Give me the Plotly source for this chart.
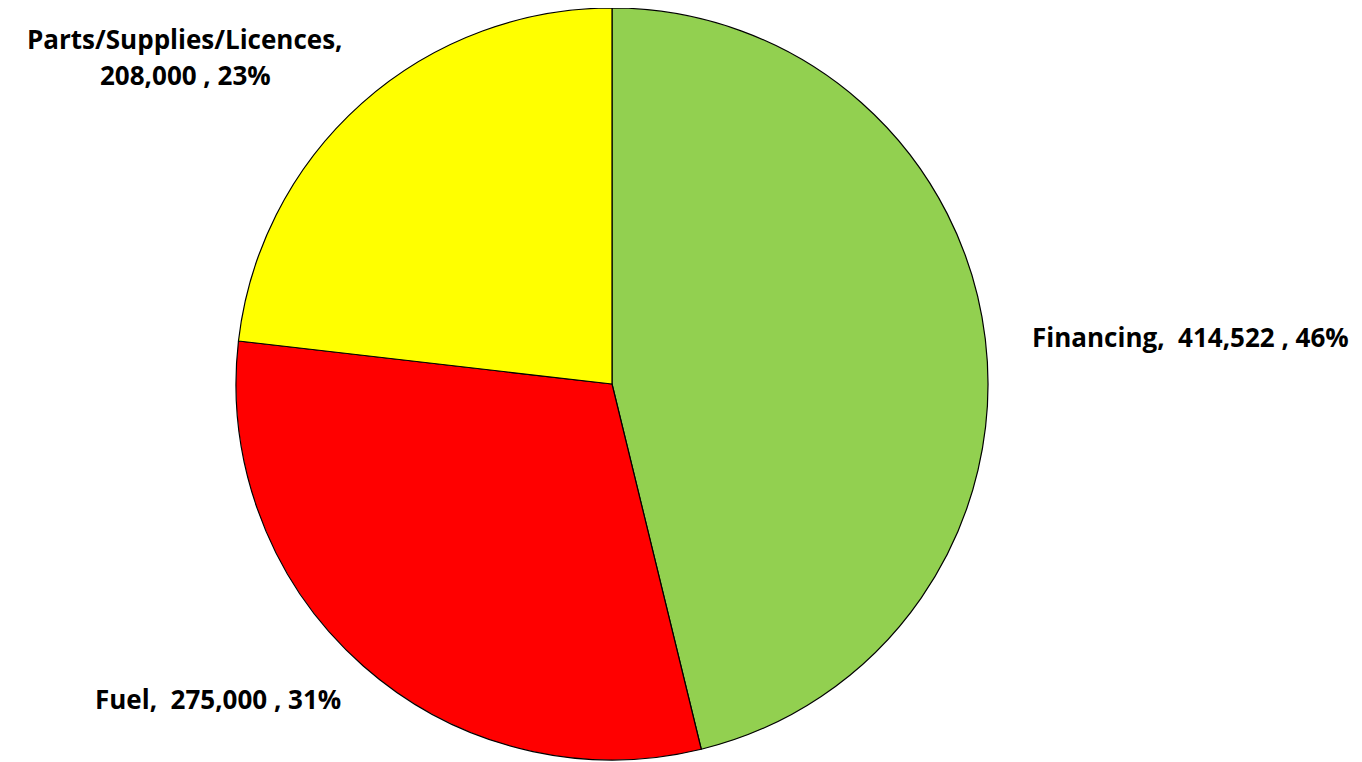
import plotly.graph_objects as go

categories = ["Financing", "Fuel", "Parts/Supplies/Licences"]
values = [414522, 275000, 208000]
colors = ["#92D050", "#FF0000", "#FFFF00"]
label_lines = [
    ["Financing,  414,522 , 46%"],
    ["Fuel,  275,000 , 31%"],
    ["Parts/Supplies/Licences,", "208,000 , 23%"],
]
label_pos = [(1182, 333), (210, 700), (177, 31)]
line_step = 37

W, H = 1362, 762
fig = go.Figure(go.Pie(
    labels=categories,
    values=values,
    sort=False,
    direction="clockwise",
    rotation=0,
    marker=dict(colors=colors, line=dict(color="#000000", width=1.2)),
    textinfo="none",
    hoverinfo="label+value+percent",
    domain=dict(x=[0, 1208 / W], y=[0, 1]),
    showlegend=False,
))

for lines, (px, py) in zip(label_lines, label_pos):
    for i, line in enumerate(lines):
        fig.add_annotation(
            x=px / W, y=1 - (py + i * line_step) / H, xref="paper", yref="paper",
            text="<b>" + line + "</b>", showarrow=False,
            xanchor="center", yanchor="middle",
            font=dict(family="Open Sans", size=26, color="#000000"),
        )

fig.update_layout(
    width=W, height=H,
    margin=dict(l=0, r=0, t=0, b=10),
    paper_bgcolor="white", plot_bgcolor="white",
)

fig.write_html("out.html")
